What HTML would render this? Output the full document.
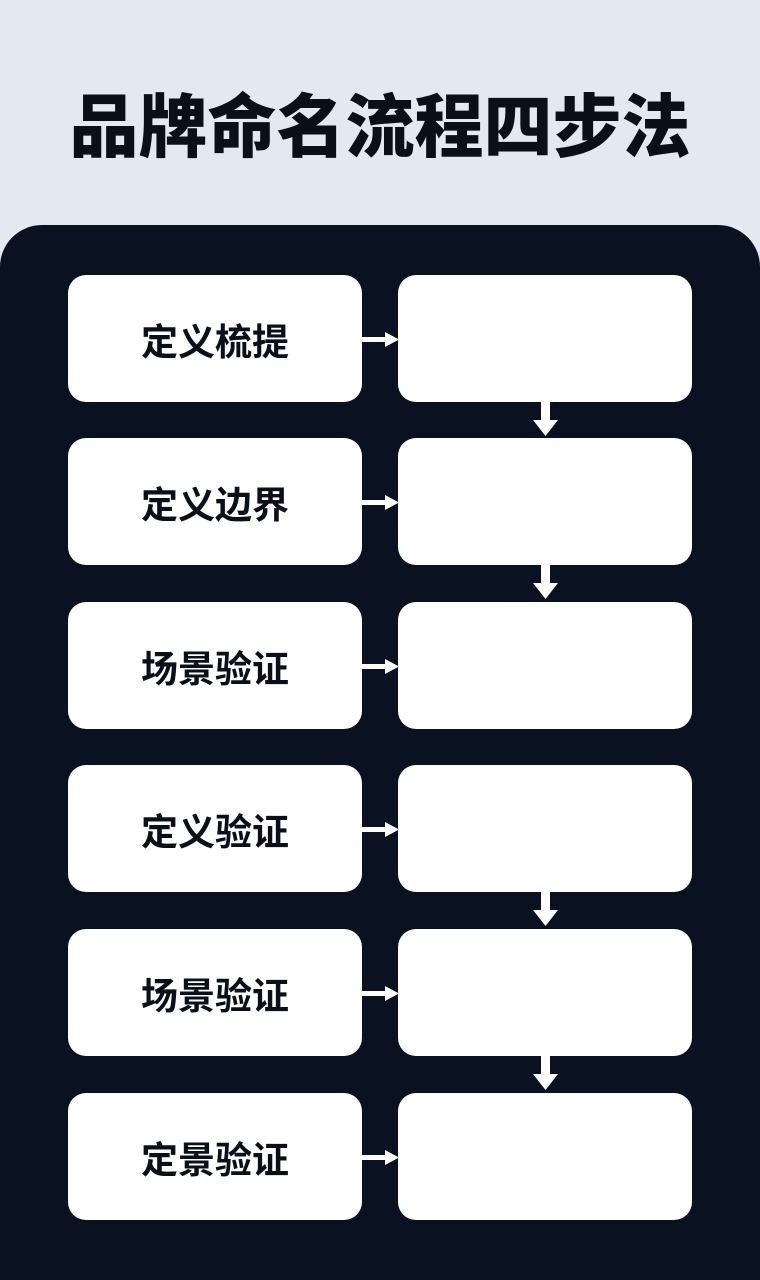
<!DOCTYPE html>
<html><head><meta charset="utf-8"><style>
html,body{margin:0;width:760px;height:1280px;overflow:hidden}
body{background:#e3e9f1;position:relative;font-family:"Liberation Sans","Noto Sans CJK SC",sans-serif}
h1{position:absolute;top:84px;left:0;width:760px;text-align:center;margin:0;font-size:69px;font-weight:900;color:#0b0f1a;line-height:88px;letter-spacing:0}
.panel{position:absolute;left:0;top:225px;width:760px;height:1055px;background:#0a1121;border-radius:42px 42px 0 0}
.box{position:absolute;width:294px;height:127px;background:#fff;border-radius:18px;display:flex;align-items:center;justify-content:center;font-size:37px;font-weight:700;color:#0b0f1a}
svg{position:absolute;left:0;top:0}
</style></head><body>
<h1>品牌命名流程四步法</h1>
<div class="panel"></div>
<div class="box" style="left:68px;top:275px">定义梳提</div><div class="box" style="left:398px;top:275px"></div>
<div class="box" style="left:68px;top:438px">定义边界</div><div class="box" style="left:398px;top:438px"></div>
<div class="box" style="left:68px;top:602px">场景验证</div><div class="box" style="left:398px;top:602px"></div>
<div class="box" style="left:68px;top:765px">定义验证</div><div class="box" style="left:398px;top:765px"></div>
<div class="box" style="left:68px;top:929px">场景验证</div><div class="box" style="left:398px;top:929px"></div>
<div class="box" style="left:68px;top:1093px">定景验证</div><div class="box" style="left:398px;top:1093px"></div>
<svg width="760" height="1280" fill="#fff">
<g id="h"><rect x="360" y="337" width="28" height="5"/><polygon points="385,332 399,339.5 385,347"/></g>
<use href="#h" y="163"/><use href="#h" y="327"/><use href="#h" y="490"/><use href="#h" y="654"/><use href="#h" y="818"/>
<g id="v"><rect x="541" y="400" width="9" height="22"/><polygon points="533,420 558,420 545.5,436"/></g>
<use href="#v" y="163"/><use href="#v" y="490"/><use href="#v" y="654"/>
</svg>
</body></html>
